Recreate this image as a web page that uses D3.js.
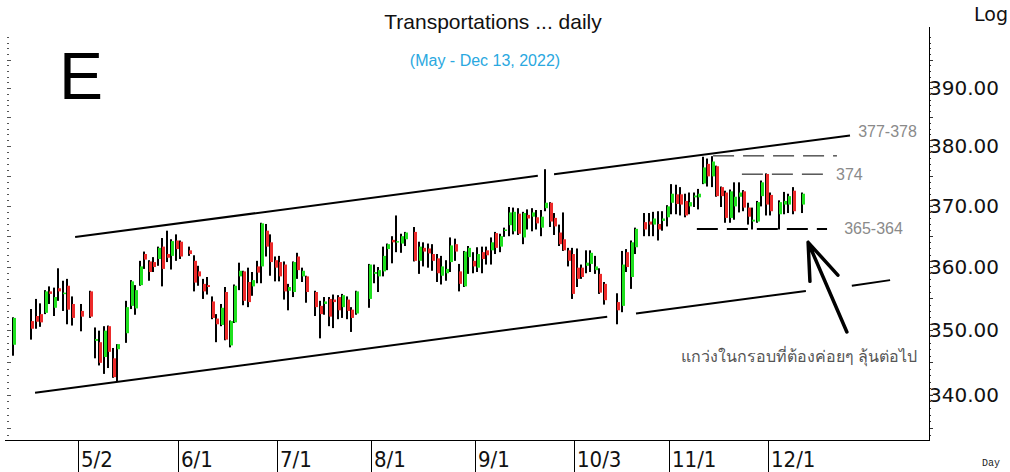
<!DOCTYPE html>
<html>
<head>
<meta charset="utf-8">
<script src="https://cdn.jsdelivr.net/npm/d3@7"></script>
<style>
  body { margin: 0; background: #fff; }
  svg { display: block; }
</style>
</head>
<body>
<div id="chart"></div>
<script>
// trading days: weekdays from 12 Apr to 13 Dec 2022 minus SET holidays
const firstDay = "2022-04-12";
const lastDay = "2022-12-13";
const holidays = ["2022-04-13", "2022-04-14", "2022-04-15", "2022-05-02", "2022-05-04",
  "2022-05-16", "2022-06-03", "2022-07-13", "2022-07-28", "2022-07-29", "2022-08-12",
  "2022-10-13", "2022-10-14", "2022-10-24", "2022-12-05", "2022-12-12"];

const open = [347.7, 351.4, 352.2, 352.5, 352.7, 356.1, 353.5, 356.6, 355.7, 357.0, 354.1,
  353.0, 356.1, 348.3, 348.1, 345.8, 350.6, 345.6, 347.0,
  349.5, 353.8, 353.4, 357.1, 362.1, 360.9, 360.8, 361.3, 363.3, 362.1, 361.8, 364.3, 364.1,
  362.7, 361.0, 359.3, 357.3, 357.1, 354.5, 351.8, 350.8, 356.0, 347.6, 351.2, 358.5, 359.3,
  357.6, 356.9, 360.1, 360.1, 365.9, 364.0, 361.1, 360.8, 360.4, 356.2, 356.0, 361.7, 358.5, 358.5,
  356.0, 353.8, 354.1, 354.9, 354.8, 355.2, 353.6, 354.8, 353.2, 352.6,
  354.9, 358.9, 358.5, 359.3, 362.9, 364.4, 364.0, 363.8, 364.5,
  365.7, 361.0, 363.1, 363.0, 362.1, 361.4, 358.6, 359.0, 360.8, 363.7, 359.3, 356.9, 361.6,
  361.0, 359.9, 362.4, 362.7, 362.7, 365.5, 363.3, 365.9, 366.8, 365.8, 368.7, 364.8, 368.5,
  368.2, 368.1, 366.4, 369.6, 370.5, 368.0, 365.6, 364.5, 362.7, 362.1, 359.9, 359.9, 360.2,
  360.5, 359.5, 358.9, 357.3,
  354.4, 353.8, 362.4, 358.4, 363.2,
  367.3, 367.4, 366.9, 367.0, 367.5, 368.1, 370.5, 371.9, 371.9, 370.8, 369.9, 371.4, 371.4,
  373.7, 377.0, 374.9, 376.6, 373.1, 372.2, 368.0, 369.9, 371.5, 372.4, 369.7, 367.4, 367.4,
  371.6, 375.3, 371.8,
  368.6, 370.2, 370.2, 372.5,
  370.2];
const high = [352.0, 353.3, 354.9, 354.2, 356.3, 356.9, 356.7, 359.8, 357.8, 358.1, 355.3,
  354.1, 356.2, 350.4, 349.9, 350.6, 350.7, 347.2, 347.8,
  354.6, 357.9, 357.1, 361.0, 362.5, 361.1, 361.6, 363.3, 364.7, 365.9, 364.5, 365.3, 364.3,
  363.3, 361.9, 360.2, 358.1, 358.4, 355.3, 352.5, 354.1, 356.8, 351.5, 357.2, 360.7, 359.4,
  359.9, 359.2, 361.0, 367.2, 367.0, 365.3, 361.7, 361.8, 360.9, 357.3, 360.9, 362.3, 359.9, 358.6,
  356.2, 354.6, 355.2, 355.2, 355.6, 355.5, 355.7, 355.3, 353.6, 356.2,
  360.5, 360.4, 360.0, 363.3, 363.8, 365.0, 368.4, 365.4, 365.7,
  366.5, 364.1, 364.0, 363.8, 363.7, 362.1, 361.8, 361.1, 364.8, 364.6, 360.5, 362.6, 363.4,
  362.4, 363.2, 363.3, 363.3, 364.8, 365.7, 365.4, 366.4, 369.8, 369.7, 369.6, 369.0, 369.4,
  369.6, 369.3, 369.3, 376.1, 370.6, 368.8, 366.9, 368.9, 363.1, 363.1, 363.0, 360.4, 362.7,
  362.7, 361.8, 359.8, 357.6,
  355.8, 362.6, 362.9, 364.3, 366.4,
  368.8, 368.8, 369.0, 369.1, 369.1, 370.1, 373.6, 373.5, 373.1, 372.0, 372.2, 372.2, 372.8,
  378.2, 377.9, 378.3, 376.7, 373.2, 372.5, 372.7, 373.9, 373.9, 372.6, 370.5, 369.7, 370.8,
  374.2, 375.4, 372.2,
  370.9, 372.3, 372.0, 373.1,
  372.2];
const low = [346.0, 348.5, 350.2, 350.5, 352.5, 354.1, 352.2, 354.6, 353.0, 350.9, 350.7,
  349.8, 351.9, 345.6, 344.5, 343.2, 344.1, 342.6, 342.1,
  348.0, 353.3, 352.4, 357.0, 359.7, 357.8, 359.2, 360.2, 356.9, 360.8, 359.6, 361.0, 361.3,
  361.8, 356.1, 357.0, 354.9, 355.6, 351.7, 348.1, 350.6, 348.4, 347.3, 351.1, 356.3, 353.9,
  353.6, 355.4, 357.4, 357.4, 361.7, 358.6, 357.7, 357.7, 354.8, 353.1, 355.2, 358.1, 357.6, 354.3,
  352.2, 348.7, 352.4, 350.6, 350.3, 351.7, 351.9, 351.7, 349.7, 352.4,
  353.5, 357.4, 356.0, 358.5, 359.5, 360.6, 362.4, 362.3, 363.4,
  360.9, 358.9, 360.1, 359.9, 359.4, 357.6, 357.2, 357.8, 359.2, 361.0, 356.1, 356.8, 358.9,
  359.0, 359.2, 359.0, 360.4, 360.4, 362.1, 362.4, 364.9, 365.0, 365.3, 365.2, 363.7, 366.1,
  365.8, 366.1, 365.0, 369.1, 366.5, 365.2, 363.4, 362.6, 360.1, 354.9, 356.8, 358.1, 359.0,
  359.2, 358.9, 355.7, 354.0,
  350.9, 352.8, 359.2, 356.5, 362.1,
  365.0, 365.0, 365.0, 364.3, 365.9, 366.6, 368.6, 368.6, 368.4, 368.1, 368.6, 369.8, 369.4,
  373.6, 373.2, 373.1, 371.5, 369.8, 367.2, 367.2, 367.7, 368.9, 369.1, 366.9, 366.1, 367.2,
  369.9, 368.4, 368.4,
  366.1, 368.6, 368.8, 368.6,
  368.8];
const close = [351.9, 350.2, 351.3, 351.2, 356.1, 355.7, 355.2, 356.1, 355.9, 353.2, 351.9,
  352.1, 352.1, 348.6, 344.9, 349.9, 346.6, 342.7, 347.8,
  353.6, 357.7, 356.3, 360.1, 361.2, 359.2, 360.0, 363.1, 359.7, 361.5, 364.2, 362.9, 361.7,
  362.1, 357.5, 358.5, 356.1, 356.8, 351.9, 350.9, 353.5, 348.5, 351.4, 357.0, 359.4, 354.6,
  354.4, 357.9, 359.1, 367.1, 363.3, 360.8, 359.9, 358.5, 356.1, 356.8, 360.8, 359.5, 359.4, 356.0,
  353.6, 352.5, 354.5, 352.1, 354.4, 353.1, 355.5, 353.0, 351.9, 356.1,
  360.4, 359.2, 359.5, 361.8, 363.7, 364.0, 364.2, 365.0, 365.6,
  361.0, 363.3, 362.5, 362.2, 361.0, 359.0, 360.1, 359.7, 363.5, 362.5, 357.3, 362.5, 363.1,
  360.1, 362.1, 361.3, 361.9, 364.0, 363.1, 365.0, 366.1, 368.9, 369.0, 365.4, 368.8, 367.9,
  368.9, 367.1, 368.2, 370.5, 367.4, 366.6, 363.7, 362.7, 361.0, 355.7, 358.1, 358.4, 360.7,
  362.3, 360.1, 355.9, 354.7,
  353.1, 360.4, 360.0, 364.0, 366.2,
  366.1, 366.9, 367.9, 366.1, 367.9, 369.9, 372.0, 370.3, 370.2, 368.4, 370.6, 371.7, 372.0,
  376.4, 374.9, 377.4, 371.6, 371.6, 368.0, 372.4, 371.5, 372.2, 369.7, 368.2, 367.7, 370.6,
  373.9, 370.2, 369.1,
  370.6, 370.8, 371.6, 369.1,
  372.0];

const tickDates = ["2022-05-02", "2022-06-01", "2022-07-01", "2022-08-01", "2022-09-01",
  "2022-10-03", "2022-11-01", "2022-12-01"];
const tickLabels = ["5/2", "6/1", "7/1", "8/1", "9/1", "10/3", "11/1", "12/1"];
const priceLabels = [340, 350, 360, 370, 380, 390];

// drawn lines, x in weekdays counted from 2 May, y in price
const channelLines = [
  [[-0.3, 364.85], [102.4, 375.0]],
  [[106.0, 375.27], [171.7, 381.8]],
  [[-9.2, 340.3], [117.8, 352.1]],
  [[124.2, 352.6], [161.9, 356.15]],
  [[172.1, 357.0], [180.6, 357.9]]
];
const dashLines = [
  {from: 141.3, to: 168.8, price: 378.35, width: 1},
  {from: 147.7, to: 167.3, price: 375.27, width: 1},
  {from: 137.7, to: 166.6, price: 366.16, width: 2}
];
const notes = [
  {day: 173.5, price: 381.5, text: "377-378"},
  {day: 168.6, price: 374.3, text: "374"},
  {day: 170.4, price: 365.3, text: "365-364"}
];
const thaiNote = {day: 134.2, price: 345.0, text: "แกว่งในกรอบที่ต้องค่อยๆ ลุ้นต่อไป"};
const arrow = [[171.0, 349.7], [162.4, 364.0], [162.8, 357.7], [169.0, 358.7]];

const width = 1010, height = 472;
const plotLeft = 5, plotRight = 929, plotTop = 27, plotBottom = 440;

const parse = d3.utcParse("%Y-%m-%d");
const fmt = d3.utcFormat("%Y-%m-%d");
let weekdays = d3.utcDays(parse(firstDay), d3.utcDay.offset(parse(lastDay), 1))
  .filter(d => d.getUTCDay() !== 0 && d.getUTCDay() !== 6)
  .map(fmt);
let dayIndex = {};
let may2 = weekdays.indexOf("2022-05-02");
weekdays.forEach((d, i) => { dayIndex[d] = i - may2; });
let tradingDays = weekdays.filter(d => holidays.indexOf(d) < 0);

let candles = tradingDays.map((d, i) => ({
  day: dayIndex[d], open: open[i], high: high[i], low: low[i], close: close[i]
}));

let x = d3.scaleLinear().domain([-15.87, 189.23]).range([plotLeft, plotRight]);
let y = d3.scaleLog().domain([333.2, 400.8]).range([plotBottom, plotTop]);

let svg = d3.select("#chart").append("svg")
  .attr("width", width).attr("height", height);

// titles
svg.append("text").text("Transportations ... daily")
  .attr("x", 493).attr("y", 29).attr("text-anchor", "middle")
  .attr("font-family", "Liberation Sans, Arial").attr("font-size", 21).attr("fill", "#111");
svg.append("text").text("(May - Dec 13, 2022)")
  .attr("x", 485).attr("y", 66).attr("text-anchor", "middle")
  .attr("font-family", "Liberation Sans, Arial").attr("font-size", 16).attr("fill", "#2aa8e0");
svg.append("text").text("E")
  .attr("x", 59).attr("y", 99)
  .attr("font-family", "Liberation Sans, Arial").attr("font-size", 66).attr("fill", "#000");
svg.append("text").text("Log")
  .attr("x", 974).attr("y", 21)
  .attr("font-family", "DejaVu Sans").attr("font-size", 19).attr("fill", "#111");
svg.append("text").text("Day")
  .attr("x", 982).attr("y", 466)
  .attr("font-family", "Liberation Mono, monospace").attr("font-size", 10).attr("fill", "#222");

// left minor ticks
let leftTicks = d3.range(334, 400);
svg.append("g").selectAll("line").data(leftTicks).enter().append("line")
  .attr("x1", 7).attr("x2", d => d % 5 === 0 ? 11 : 9)
  .attr("y1", d => Math.round(y(d)) + 0.5).attr("y2", d => Math.round(y(d)) + 0.5)
  .attr("stroke", "#555").attr("stroke-width", 1);

// right axis
let yAxis = d3.axisRight(y).tickValues(priceLabels).tickSize(4)
  .tickFormat(d3.format(".2f"));
let gy = svg.append("g").attr("transform", "translate(" + plotRight + ",0)").call(yAxis);
gy.select(".domain").remove();
gy.selectAll("text").attr("x", 0).attr("font-family", "DejaVu Sans")
  .attr("font-size", 20).attr("fill", "#111");
gy.selectAll(".tick line").attr("stroke", "#222");
svg.append("g").selectAll("line").data(leftTicks).enter().append("line")
  .attr("x1", plotRight).attr("x2", d => d % 5 === 0 ? plotRight + 4 : plotRight + 2)
  .attr("y1", d => Math.round(y(d)) + 0.5).attr("y2", d => Math.round(y(d)) + 0.5)
  .attr("stroke", "#333");
svg.append("line").attr("x1", plotRight + 0.5).attr("x2", plotRight + 0.5)
  .attr("y1", plotTop).attr("y2", plotBottom).attr("stroke", "#000");

// bottom axis
svg.append("line").attr("x1", plotLeft).attr("x2", plotRight + 1)
  .attr("y1", plotBottom + 0.5).attr("y2", plotBottom + 0.5).attr("stroke", "#000");
let gx = svg.append("g").selectAll("g").data(tickDates).enter().append("g")
  .attr("transform", d => "translate(" + (Math.round(x(dayIndex[d])) + 2) + ",0)");
gx.append("line").attr("x1", 0.5).attr("x2", 0.5)
  .attr("y1", plotBottom).attr("y2", height).attr("stroke", "#000");
gx.append("text").text((d, i) => tickLabels[i])
  .attr("x", 3).attr("y", 467)
  .attr("font-family", "DejaVu Sans Condensed, DejaVu Sans").attr("font-size", 22)
  .attr("fill", "#111");

// candles
let cg = svg.append("g");
candles.forEach(c => {
  let cx = Math.round(x(c.day));
  cg.append("rect").attr("x", cx - 1).attr("width", 2)
    .attr("y", y(c.high)).attr("height", Math.max(1, y(c.low) - y(c.high)))
    .attr("fill", "#000");
  let top = y(Math.max(c.open, c.close)), bot = y(Math.min(c.open, c.close));
  cg.append("rect").attr("x", cx).attr("width", 3)
    .attr("y", top).attr("height", Math.max(1.5, bot - top))
    .attr("fill", c.close >= c.open ? "#1fe01f" : "#ec2a2a");
});

// channel lines
let line = d3.line().x(d => x(d[0])).y(d => y(d[1]));
svg.append("g").selectAll("path").data(channelLines).enter().append("path")
  .attr("d", line).attr("stroke", "#000").attr("stroke-width", 2).attr("fill", "none");

svg.append("g").selectAll("line").data(dashLines).enter().append("line")
  .attr("x1", d => x(d.from)).attr("x2", d => x(d.to))
  .attr("y1", d => y(d.price)).attr("y2", d => y(d.price))
  .attr("stroke", "#000").attr("stroke-width", d => d.width)
  .attr("stroke-dasharray", "21,9");

svg.append("g").selectAll("text").data(notes).enter().append("text")
  .text(d => d.text).attr("x", d => x(d.day)).attr("y", d => y(d.price))
  .attr("font-family", "Liberation Sans, Arial").attr("font-size", 16).attr("fill", "#8a8a8a");

svg.append("text").text(thaiNote.text)
  .attr("x", x(thaiNote.day)).attr("y", y(thaiNote.price))
  .attr("font-family", "Noto Sans, DejaVu Sans, sans-serif").attr("font-size", 16)
  .attr("fill", "#555");

// arrow
svg.append("path")
  .attr("d", "M" + x(arrow[0][0]) + "," + y(arrow[0][1]) + "L" + x(arrow[1][0]) + "," + y(arrow[1][1])
    + "M" + x(arrow[2][0]) + "," + y(arrow[2][1]) + "L" + x(arrow[1][0]) + "," + y(arrow[1][1])
    + "L" + x(arrow[3][0]) + "," + y(arrow[3][1]))
  .attr("stroke", "#000").attr("stroke-width", 3.5).attr("fill", "none")
  .attr("stroke-linecap", "round").attr("stroke-linejoin", "round");
</script>
</body>
</html>
